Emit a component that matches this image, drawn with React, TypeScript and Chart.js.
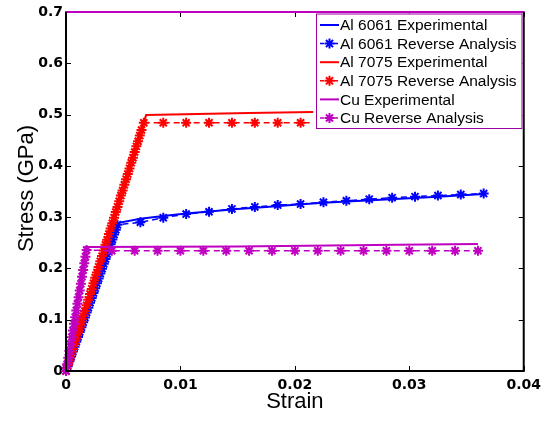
import React, { useEffect, useRef } from 'react';
import { Chart, registerables } from 'chart.js';

Chart.register(...registerables);

// ---------- axis ticks ----------
const xTickValues = [0, 0.01, 0.02, 0.03, 0.04];
const xTickLabels = ['0', '0.01', '0.02', '0.03', '0.04'];
const yTickValues = [0, 0.1, 0.2, 0.3, 0.4, 0.5, 0.6, 0.7];
const yTickLabels = ['0', '0.1', '0.2', '0.3', '0.4', '0.5', '0.6', '0.7'];

// ---------- series ----------
const seriesNames = [
  'Al 6061 Experimental',
  'Al 6061 Reverse Analysis',
  'Al 7075 Experimental',
  'Al 7075 Reverse Analysis',
  'Cu Experimental',
  'Cu Reverse Analysis',
];

const al6061ExpStrain = [0, 0.0046, 0.0065, 0.0085, 0.0105, 0.0125, 0.015, 0.0175, 0.02, 0.0225, 0.025, 0.0275, 0.03, 0.0325, 0.0365];
const al6061ExpStress = [0, 0.289, 0.297, 0.302, 0.307, 0.311, 0.316, 0.32, 0.324, 0.328, 0.331, 0.334, 0.337, 0.34, 0.345];

const al6061RevStrain = [
  0, 0.00015, 0.0003, 0.00045, 0.0006, 0.00075, 0.0009, 0.00105, 0.0012, 0.00135, 0.0015,
  0.00165, 0.0018, 0.00195, 0.0021, 0.00225, 0.0024, 0.00255, 0.0027, 0.00285, 0.003,
  0.00315, 0.0033, 0.00345, 0.0036, 0.00375, 0.0039, 0.00405, 0.0042, 0.00435, 0.0045,
  0.0065, 0.0085, 0.0105, 0.0125, 0.0145, 0.0165, 0.0185, 0.0205, 0.0225, 0.0245, 0.0265, 0.0285, 0.0305, 0.0325, 0.0345, 0.0365,
];
const al6061RevStress = [
  0, 0.0095, 0.019, 0.0285, 0.038, 0.0475, 0.057, 0.0665, 0.076, 0.0855, 0.095,
  0.1045, 0.114, 0.1235, 0.133, 0.1425, 0.152, 0.1615, 0.171, 0.1805, 0.19,
  0.1995, 0.209, 0.2185, 0.228, 0.2375, 0.247, 0.2565, 0.266, 0.2755, 0.285,
  0.29, 0.299, 0.306, 0.3105, 0.316, 0.32, 0.3235, 0.3255, 0.329, 0.332, 0.335, 0.338, 0.34, 0.342, 0.344, 0.346,
];

const al7075ExpStrain = [0, 0.007, 0.016, 0.0216];
const al7075ExpStress = [0, 0.499, 0.503, 0.505];

const al7075RevStrain = [
  0, 0.00015, 0.0003, 0.00045, 0.0006, 0.00075, 0.0009, 0.00105, 0.0012, 0.00135, 0.0015,
  0.00165, 0.0018, 0.00195, 0.0021, 0.00225, 0.0024, 0.00255, 0.0027, 0.00285, 0.003,
  0.00315, 0.0033, 0.00345, 0.0036, 0.00375, 0.0039, 0.00405, 0.0042, 0.00435, 0.0045,
  0.00465, 0.0048, 0.00495, 0.0051, 0.00525, 0.0054, 0.00555, 0.0057, 0.00585, 0.006,
  0.00615, 0.0063, 0.00645, 0.0066, 0.0068,
  0.0085, 0.0105, 0.0125, 0.0145, 0.0165, 0.0185, 0.0205, 0.0216,
];
const al7075RevStress = [
  0, 0.011, 0.021, 0.032, 0.043, 0.053, 0.064, 0.075, 0.085, 0.096, 0.107,
  0.117, 0.128, 0.139, 0.15, 0.16, 0.171, 0.182, 0.192, 0.203, 0.214,
  0.224, 0.235, 0.246, 0.256, 0.267, 0.278, 0.288, 0.299, 0.31, 0.32,
  0.331, 0.342, 0.352, 0.363, 0.374, 0.384, 0.395, 0.406, 0.416, 0.427,
  0.438, 0.448, 0.459, 0.47, 0.484,
  0.484, 0.484, 0.484, 0.484, 0.484, 0.484, 0.484, 0.484,
];

const cuExpStrain = [0, 0.0017, 0.015, 0.029, 0.036];
const cuExpStress = [0, 0.242, 0.243, 0.246, 0.2475];

const cuRevStrain = [
  0, 0.0001, 0.0002, 0.0003, 0.0004, 0.0005, 0.0006, 0.0007, 0.0008, 0.0009,
  0.001, 0.0011, 0.0012, 0.0013, 0.0014, 0.0015, 0.0016, 0.0017, 0.0018,
  0.004, 0.006, 0.008, 0.01, 0.012, 0.014, 0.016, 0.018, 0.02, 0.022, 0.024, 0.026, 0.028, 0.03, 0.032, 0.034, 0.036,
];
const cuRevStress = [
  0, 0.013, 0.026, 0.039, 0.052, 0.066, 0.079, 0.092, 0.105, 0.118,
  0.131, 0.144, 0.157, 0.17, 0.184, 0.197, 0.21, 0.223, 0.236,
  0.2345, 0.2345, 0.2345, 0.2345, 0.2345, 0.2345, 0.2345, 0.2345, 0.2345, 0.2345, 0.2345, 0.2345, 0.2345, 0.2345, 0.2345, 0.2345, 0.2345,
];

const BLUE = '#0000ff';
const RED = '#ff0000';
const MAG = '#c000c0';

const colors = [BLUE, BLUE, RED, RED, MAG, MAG];
const isReverse = [false, true, false, true, false, true];

const zip = (xs: number[], ys: number[]) => xs.map((x, i) => ({ x, y: ys[i] }));

function drawStar(ctx: CanvasRenderingContext2D, x: number, y: number, r: number) {
  ctx.beginPath();
  for (let k = 0; k < 4; k++) {
    const a = (k * Math.PI) / 4;
    ctx.moveTo(x - Math.cos(a) * r, y - Math.sin(a) * r);
    ctx.lineTo(x + Math.cos(a) * r, y + Math.sin(a) * r);
  }
  ctx.stroke();
}

const framePlugin = {
  id: 'frame',
  afterDraw(chart: any) {
    const ctx: CanvasRenderingContext2D = chart.ctx;
    const { left, right, top, bottom } = chart.chartArea;
    const xs = chart.scales.x;
    const ys = chart.scales.y;
    ctx.save();
    // ticks (inward)
    ctx.strokeStyle = '#000';
    ctx.lineWidth = 1;
    const tl = 5;
    ctx.beginPath();
    xTickValues.forEach((v) => {
      const px = Math.round(xs.getPixelForValue(v)) + 0.5;
      ctx.moveTo(px, bottom);
      ctx.lineTo(px, bottom - tl);
      ctx.moveTo(px, top);
      ctx.lineTo(px, top + tl);
    });
    yTickValues.forEach((v) => {
      const py = Math.round(ys.getPixelForValue(v)) + 0.5;
      ctx.moveTo(left, py);
      ctx.lineTo(left + tl, py);
      ctx.moveTo(right, py);
      ctx.lineTo(right - tl, py);
    });
    ctx.stroke();
    // frame
    ctx.lineWidth = 2;
    ctx.strokeStyle = MAG;
    ctx.beginPath();
    ctx.moveTo(left - 1, top);
    ctx.lineTo(right + 1, top);
    ctx.stroke();
    ctx.strokeStyle = '#000';
    ctx.beginPath();
    ctx.moveTo(left, top);
    ctx.lineTo(left, bottom);
    ctx.lineTo(right, bottom);
    ctx.lineTo(right, top);
    ctx.stroke();

    // axis titles
    ctx.fillStyle = '#000';
    ctx.font = '22px "Liberation Sans", Arial, sans-serif';
    ctx.textAlign = 'center';
    ctx.textBaseline = 'alphabetic';
    ctx.fillText('Strain', (left + right) / 2, 408);
    ctx.save();
    ctx.translate(33, (top + bottom) / 2 - 3);
    ctx.rotate(-Math.PI / 2);
    ctx.fillText('Stress (GPa)', 0, 0);
    ctx.restore();

    // legend
    const lx0 = 316, ly0 = 13.5, lx1 = 522.5, ly1 = 129;
    ctx.fillStyle = '#fff';
    ctx.fillRect(lx0, ly0, lx1 - lx0, ly1 - ly0);
    ctx.strokeStyle = '#a000a0';
    ctx.lineWidth = 1;
    ctx.strokeRect(lx0 + 0.5, ly0 + 0.5, lx1 - lx0 - 1, ly1 - ly0 - 1);
    ctx.font = '15.5px "Liberation Sans", Arial, sans-serif';
    ctx.textAlign = 'left';
    ctx.textBaseline = 'middle';
    seriesNames.forEach((name, i) => {
      const cy = 25 + i * 18.6;
      ctx.strokeStyle = colors[i];
      ctx.lineWidth = isReverse[i] ? 1.5 : 2;
      ctx.setLineDash(isReverse[i] ? [4, 3] : []);
      ctx.beginPath();
      ctx.moveTo(320, cy);
      ctx.lineTo(339, cy);
      ctx.stroke();
      ctx.setLineDash([]);
      if (isReverse[i]) {
        ctx.lineWidth = 2;
        drawStar(ctx, 329.5, cy, 5);
      }
      ctx.fillStyle = '#000';
      ctx.fillText(name, 340, cy + 1);
    });
    ctx.restore();
  },
};

export default function App() {
  const ref = useRef<HTMLCanvasElement>(null);
  useEffect(() => {
    const canvas = ref.current;
    if (!canvas) return;
    const pairs = [
      zip(al6061ExpStrain, al6061ExpStress),
      zip(al6061RevStrain, al6061RevStress),
      zip(al7075ExpStrain, al7075ExpStress),
      zip(al7075RevStrain, al7075RevStress),
      zip(cuExpStrain, cuExpStress),
      zip(cuRevStrain, cuRevStress),
    ];
    const datasets = pairs.map((data, i) => ({
      label: seriesNames[i],
      data,
      showLine: true,
      borderColor: colors[i],
      backgroundColor: colors[i],
      borderWidth: isReverse[i] ? 1.5 : 2,
      borderDash: isReverse[i] ? [6, 4] : [],
      pointStyle: 'star',
      pointRadius: isReverse[i] ? data.map((_, j) => (i === 3 && j === data.length - 1 ? 0 : 5)) : 0,
      pointBorderWidth: 2,
      pointBorderColor: colors[i],
      pointHoverRadius: 0,
      clip: false,
      tension: 0,
      order: 5 - i,
    }));
    const chart = new Chart(canvas, {
      type: 'scatter',
      data: { datasets: datasets as any },
      options: {
        responsive: false,
        animation: false,
        devicePixelRatio: 1,
        events: [],
        layout: { padding: { top: 12, right: 20, left: 0, bottom: 0 } },
        plugins: { legend: { display: false }, tooltip: { enabled: false } },
        scales: {
          x: {
            type: 'linear',
            min: 0,
            max: 0.04,
            afterBuildTicks: (s: any) => {
              s.ticks = xTickValues.map((v) => ({ value: v }));
            },
            afterFit: (s: any) => {
              s.height = 52;
            },
            ticks: {
              color: '#000',
              font: { family: 'DejaVu Sans', weight: 'bold', size: 14 },
              padding: 6,
              maxRotation: 0,
              autoSkip: false,
              callback: (_v: any, i: number) => xTickLabels[i],
            },
            grid: { display: false, drawTicks: false },
            border: { display: false },
          },
          y: {
            type: 'linear',
            min: 0,
            max: 0.7,
            afterBuildTicks: (s: any) => {
              s.ticks = yTickValues.map((v) => ({ value: v }));
            },
            afterFit: (s: any) => {
              s.width = 66;
            },
            ticks: {
              color: '#000',
              font: { family: 'DejaVu Sans', weight: 'bold', size: 14 },
              padding: 3,
              autoSkip: false,
              callback: (_v: any, i: number) => yTickLabels[i],
            },
            grid: { display: false, drawTicks: false },
            border: { display: false },
          },
        },
      },
      plugins: [framePlugin],
    } as any);
    return () => chart.destroy();
  }, []);
  return (
    <div style={{ position: 'fixed', left: 0, top: 0, width: 547, height: 423, background: '#fff' }}>
      <canvas ref={ref} width={547} height={423} style={{ width: 547, height: 423, display: 'block' }} />
    </div>
  );
}
